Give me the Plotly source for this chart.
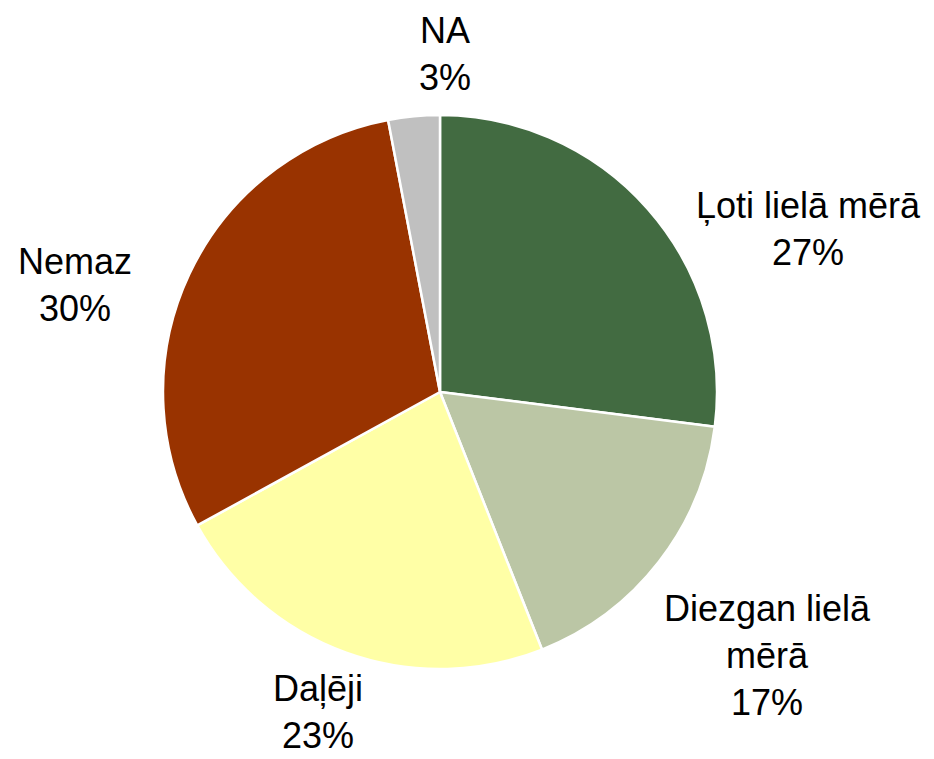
import plotly.graph_objects as go

labels = ["Ļoti lielā mērā", "Diezgan lielā mērā", "Daļēji", "Nemaz", "NA"]
label_text = ["Ļoti lielā mērā", "Diezgan lielā<br>mērā", "Daļēji", "Nemaz", "NA"]
values = [27, 17, 23, 30, 3]
colors = ["#426B41", "#BBC6A5", "#FFFFA6", "#993300", "#C0C0C0"]

# label anchor positions (paper coords) mimicking the original layout
label_pos = [(0.866, 0.698), (0.822, 0.137), (0.340, 0.062), (0.080, 0.625), (0.476, 0.929)]

W, H = 934, 759
cx, cy, r = 440, 392, 277

fig = go.Figure(go.Pie(
    labels=labels,
    values=values,
    marker=dict(colors=colors, line=dict(color="white", width=2.5)),
    sort=False,
    direction="clockwise",
    rotation=0,
    textinfo="none",
    hoverinfo="label+percent",
    showlegend=False,
    domain=dict(x=[(cx - r) / W, (cx + r) / W], y=[(H - cy - r) / H, (H - cy + r) / H]),
))

total = sum(values)
annotations = []
for txt, v, (x, y) in zip(label_text, values, label_pos):
    annotations.append(dict(
        x=x, y=y, xref="paper", yref="paper",
        text=f"{txt}<br>{round(100 * v / total)}%",
        showarrow=False, xanchor="center", yanchor="middle",
        font=dict(family="Liberation Sans, Arial, sans-serif", size=36, color="black"),
        align="center",
    ))

fig.update_layout(
    width=W, height=H,
    margin=dict(l=0, r=0, t=0, b=0),
    paper_bgcolor="white",
    plot_bgcolor="white",
    annotations=annotations,
)

fig.write_html("out.html", config={"displayModeBar": False},
               post_script="document.body.style.margin='0';")
